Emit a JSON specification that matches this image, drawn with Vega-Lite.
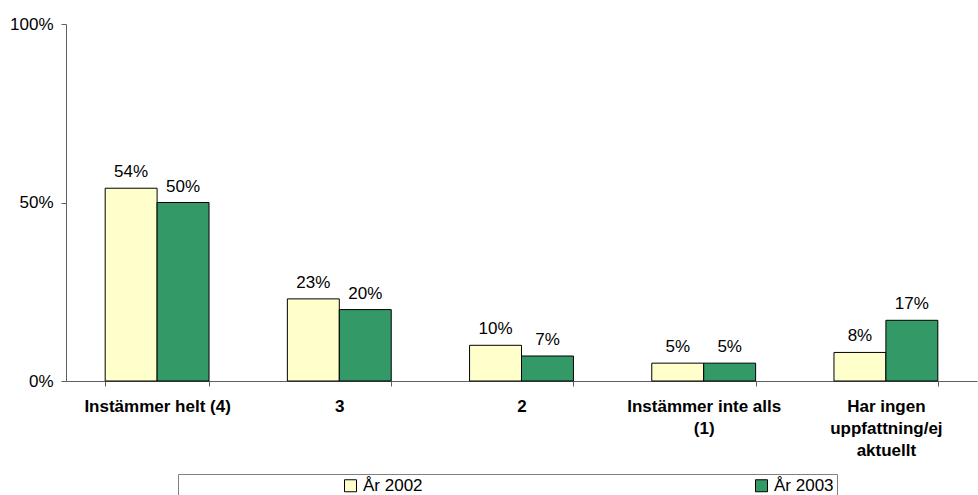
{
  "$schema": "https://vega.github.io/schema/vega-lite/v6.json",
  "width": 911,
  "height": 357,
  "autosize": {"type": "none"},
  "padding": {"left": 66, "top": 24, "right": 1, "bottom": 114},
  "background": "white",
  "config": {
    "view": {"stroke": null},
    "font": "Liberation Sans",
    "axis": {"labelFont": "Liberation Sans", "labelColor": "black", "domainColor": "#606060", "tickColor": "#606060", "grid": false}
  },
  "data": {
    "values": [
      {"kategori": "Instämmer helt (4)", "ar": "År 2002", "andel": 0.54},
      {"kategori": "Instämmer helt (4)", "ar": "År 2003", "andel": 0.50},
      {"kategori": "3", "ar": "År 2002", "andel": 0.23},
      {"kategori": "3", "ar": "År 2003", "andel": 0.20},
      {"kategori": "2", "ar": "År 2002", "andel": 0.10},
      {"kategori": "2", "ar": "År 2003", "andel": 0.07},
      {"kategori": "Instämmer inte alls (1)", "ar": "År 2002", "andel": 0.05},
      {"kategori": "Instämmer inte alls (1)", "ar": "År 2003", "andel": 0.05},
      {"kategori": "Har ingen uppfattning/ej aktuellt", "ar": "År 2002", "andel": 0.08},
      {"kategori": "Har ingen uppfattning/ej aktuellt", "ar": "År 2003", "andel": 0.17}
    ]
  },
  "encoding": {
    "x": {
      "field": "kategori", "type": "nominal", "sort": null,
      "scale": {"paddingInner": 0.43, "paddingOuter": 0.215},
      "axis": {
        "title": null, "labelAngle": 0, "labelFontWeight": "bold", "labelFontSize": 17,
        "tickBand": "extent", "tickSize": 5, "labelPadding": 12, "labelLineHeight": 22, "labelLimit": 300,
        "labelExpr": "datum.label == 'Instämmer inte alls (1)' ? ['Instämmer inte alls', '(1)'] : datum.label == 'Har ingen uppfattning/ej aktuellt' ? ['Har ingen', 'uppfattning/ej', 'aktuellt'] : datum.label"
      }
    },
    "xOffset": {"field": "ar", "type": "nominal", "sort": ["År 2002", "År 2003"]},
    "y": {
      "field": "andel", "type": "quantitative",
      "scale": {"domain": [0, 1], "nice": false},
      "axis": {"title": null, "values": [0, 0.5, 1], "format": ".0%", "labelFontSize": 17, "tickSize": 5, "labelPadding": 8}
    }
  },
  "layer": [
    {
      "mark": {"type": "bar", "stroke": "black", "strokeWidth": 1},
      "encoding": {
        "color": {
          "field": "ar", "type": "nominal",
          "scale": {"domain": ["År 2002", "År 2003"], "range": ["#FFFFCC", "#339966"]},
          "legend": {
            "orient": "none", "legendX": 112, "legendY": 450,
            "direction": "horizontal", "columns": 2, "columnPadding": 330,
            "title": " ", "titleOrient": "left", "titlePadding": 161, "titleFontSize": 13,
            "symbolType": "square", "symbolSize": 144, "symbolStrokeColor": "black", "symbolStrokeWidth": 1,
            "labelFontSize": 17, "labelColor": "black", "labelOffset": 4, "labelLimit": 400,
            "labelExpr": "datum.label == 'År 2003' ? datum.label + '\u00a0\u00a0\u00a0\u00a0\u00a0\u00a0\u00a0\u00a0\u00a0\u00a0\u00a0\u00a0\u00a0\u00a0\u00a0\u00a0\u00a0\u00a0\u00a0\u00a0\u00a0\u00a0\u00a0\u00a0\u00a0\u00a0\u00a0\u00a0\u00a0\u00a0\u00a0\u00a0\u00a0\u00a0' : datum.label",
            "strokeColor": "#808080", "fillColor": "white", "padding": 3
          }
        }
      }
    },
    {
      "mark": {"type": "text", "fontSize": 17, "dy": -11, "baseline": "alphabetic", "color": "black"},
      "encoding": {
        "text": {"field": "andel", "type": "quantitative", "format": ".0%"}
      }
    }
  ]
}
